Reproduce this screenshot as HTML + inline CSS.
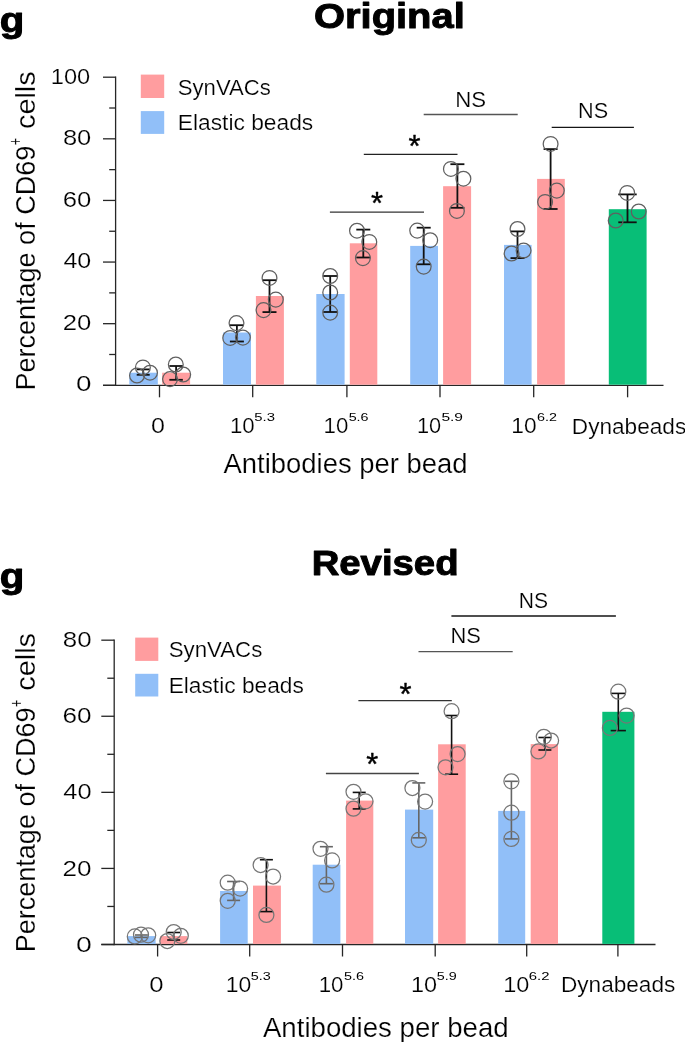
<!DOCTYPE html>
<html><head><meta charset="utf-8"><style>
html,body{margin:0;padding:0;background:#fff;}
svg{display:block;will-change:transform;}
text{font-family:"Liberation Sans",sans-serif;}
</style></head><body>
<svg width="685" height="1042" viewBox="0 0 685 1042">
<rect width="685" height="1042" fill="#fff"/>
<line x1="115.60" y1="76.55" x2="115.60" y2="385.95" stroke="#262626" stroke-width="1.3"/>
<line x1="103.00" y1="385.30" x2="115.60" y2="385.30" stroke="#262626" stroke-width="1.3"/>
<line x1="109.20" y1="354.49" x2="115.60" y2="354.49" stroke="#262626" stroke-width="1.3"/>
<line x1="103.00" y1="323.68" x2="115.60" y2="323.68" stroke="#262626" stroke-width="1.3"/>
<line x1="109.20" y1="292.87" x2="115.60" y2="292.87" stroke="#262626" stroke-width="1.3"/>
<line x1="103.00" y1="262.06" x2="115.60" y2="262.06" stroke="#262626" stroke-width="1.3"/>
<line x1="109.20" y1="231.25" x2="115.60" y2="231.25" stroke="#262626" stroke-width="1.3"/>
<line x1="103.00" y1="200.44" x2="115.60" y2="200.44" stroke="#262626" stroke-width="1.3"/>
<line x1="109.20" y1="169.63" x2="115.60" y2="169.63" stroke="#262626" stroke-width="1.3"/>
<line x1="103.00" y1="138.82" x2="115.60" y2="138.82" stroke="#262626" stroke-width="1.3"/>
<line x1="109.20" y1="108.01" x2="115.60" y2="108.01" stroke="#262626" stroke-width="1.3"/>
<line x1="103.00" y1="77.20" x2="115.60" y2="77.20" stroke="#262626" stroke-width="1.3"/>
<line x1="103.00" y1="385.30" x2="663.50" y2="385.30" stroke="#262626" stroke-width="1.3"/>
<line x1="159.50" y1="385.30" x2="159.50" y2="397.30" stroke="#262626" stroke-width="1.3"/>
<line x1="252.70" y1="385.30" x2="252.70" y2="397.30" stroke="#262626" stroke-width="1.3"/>
<line x1="346.90" y1="385.30" x2="346.90" y2="397.30" stroke="#262626" stroke-width="1.3"/>
<line x1="440.00" y1="385.30" x2="440.00" y2="397.30" stroke="#262626" stroke-width="1.3"/>
<line x1="533.70" y1="385.30" x2="533.70" y2="397.30" stroke="#262626" stroke-width="1.3"/>
<line x1="627.60" y1="385.30" x2="627.60" y2="397.30" stroke="#262626" stroke-width="1.3"/>
<rect x="129.30" y="372.70" width="28.50" height="12.00" fill="#91BFF8"/>
<rect x="162.20" y="372.70" width="27.90" height="12.00" fill="#FF9D9F"/>
<rect x="223.00" y="332.50" width="28.00" height="52.20" fill="#91BFF8"/>
<rect x="255.90" y="296.00" width="28.00" height="88.70" fill="#FF9D9F"/>
<rect x="316.30" y="294.00" width="28.30" height="90.70" fill="#91BFF8"/>
<rect x="349.80" y="243.30" width="27.50" height="141.40" fill="#FF9D9F"/>
<rect x="410.20" y="245.90" width="27.80" height="138.80" fill="#91BFF8"/>
<rect x="443.10" y="186.20" width="28.00" height="198.50" fill="#FF9D9F"/>
<rect x="504.00" y="244.90" width="27.60" height="139.80" fill="#91BFF8"/>
<rect x="537.10" y="178.90" width="27.70" height="205.80" fill="#FF9D9F"/>
<rect x="608.80" y="209.20" width="37.80" height="175.50" fill="#08BE77"/>
<line x1="143.20" y1="369.40" x2="143.20" y2="374.80" stroke="#111111" stroke-width="1.8"/>
<line x1="136.70" y1="369.40" x2="149.70" y2="369.40" stroke="#111111" stroke-width="1.8"/>
<line x1="136.70" y1="374.80" x2="149.70" y2="374.80" stroke="#111111" stroke-width="1.8"/>
<line x1="176.10" y1="366.00" x2="176.10" y2="379.80" stroke="#111111" stroke-width="1.8"/>
<line x1="169.35" y1="366.00" x2="182.85" y2="366.00" stroke="#111111" stroke-width="1.8"/>
<line x1="169.35" y1="379.80" x2="182.85" y2="379.80" stroke="#111111" stroke-width="1.8"/>
<line x1="236.90" y1="325.20" x2="236.90" y2="341.50" stroke="#111111" stroke-width="1.8"/>
<line x1="229.90" y1="325.20" x2="243.90" y2="325.20" stroke="#111111" stroke-width="1.8"/>
<line x1="229.90" y1="341.50" x2="243.90" y2="341.50" stroke="#111111" stroke-width="1.8"/>
<line x1="269.50" y1="280.20" x2="269.50" y2="312.10" stroke="#111111" stroke-width="1.8"/>
<line x1="262.50" y1="280.20" x2="276.50" y2="280.20" stroke="#111111" stroke-width="1.8"/>
<line x1="262.50" y1="312.10" x2="276.50" y2="312.10" stroke="#111111" stroke-width="1.8"/>
<line x1="330.20" y1="276.00" x2="330.20" y2="312.00" stroke="#111111" stroke-width="1.8"/>
<line x1="323.20" y1="276.00" x2="337.20" y2="276.00" stroke="#111111" stroke-width="1.8"/>
<line x1="323.20" y1="312.00" x2="337.20" y2="312.00" stroke="#111111" stroke-width="1.8"/>
<line x1="363.30" y1="229.60" x2="363.30" y2="257.50" stroke="#111111" stroke-width="1.8"/>
<line x1="356.30" y1="229.60" x2="370.30" y2="229.60" stroke="#111111" stroke-width="1.8"/>
<line x1="356.30" y1="257.50" x2="370.30" y2="257.50" stroke="#111111" stroke-width="1.8"/>
<line x1="423.70" y1="227.70" x2="423.70" y2="264.30" stroke="#111111" stroke-width="1.8"/>
<line x1="416.70" y1="227.70" x2="430.70" y2="227.70" stroke="#111111" stroke-width="1.8"/>
<line x1="416.70" y1="264.30" x2="430.70" y2="264.30" stroke="#111111" stroke-width="1.8"/>
<line x1="457.40" y1="164.20" x2="457.40" y2="207.80" stroke="#111111" stroke-width="1.8"/>
<line x1="450.40" y1="164.20" x2="464.40" y2="164.20" stroke="#111111" stroke-width="1.8"/>
<line x1="450.40" y1="207.80" x2="464.40" y2="207.80" stroke="#111111" stroke-width="1.8"/>
<line x1="517.50" y1="231.40" x2="517.50" y2="258.10" stroke="#111111" stroke-width="1.8"/>
<line x1="510.50" y1="231.40" x2="524.50" y2="231.40" stroke="#111111" stroke-width="1.8"/>
<line x1="510.50" y1="258.10" x2="524.50" y2="258.10" stroke="#111111" stroke-width="1.8"/>
<line x1="550.60" y1="149.10" x2="550.60" y2="209.00" stroke="#111111" stroke-width="1.8"/>
<line x1="543.60" y1="149.10" x2="557.60" y2="149.10" stroke="#111111" stroke-width="1.8"/>
<line x1="543.60" y1="209.00" x2="557.60" y2="209.00" stroke="#111111" stroke-width="1.8"/>
<line x1="627.50" y1="194.40" x2="627.50" y2="222.30" stroke="#111111" stroke-width="1.8"/>
<line x1="618.30" y1="194.40" x2="636.70" y2="194.40" stroke="#111111" stroke-width="1.8"/>
<line x1="618.30" y1="222.30" x2="636.70" y2="222.30" stroke="#111111" stroke-width="1.8"/>
<circle cx="142.90" cy="367.40" r="7.4" fill="none" stroke="#606060" stroke-width="1.25"/>
<circle cx="137.00" cy="375.50" r="7.4" fill="none" stroke="#606060" stroke-width="1.25"/>
<circle cx="150.00" cy="372.70" r="7.4" fill="none" stroke="#606060" stroke-width="1.25"/>
<circle cx="175.80" cy="364.50" r="7.4" fill="none" stroke="#606060" stroke-width="1.25"/>
<circle cx="183.20" cy="374.50" r="7.4" fill="none" stroke="#606060" stroke-width="1.25"/>
<circle cx="170.00" cy="379.10" r="7.4" fill="none" stroke="#606060" stroke-width="1.25"/>
<circle cx="236.50" cy="323.10" r="7.4" fill="none" stroke="#606060" stroke-width="1.25"/>
<circle cx="230.20" cy="337.90" r="7.4" fill="none" stroke="#606060" stroke-width="1.25"/>
<circle cx="242.90" cy="337.60" r="7.4" fill="none" stroke="#606060" stroke-width="1.25"/>
<circle cx="269.50" cy="277.90" r="7.4" fill="none" stroke="#606060" stroke-width="1.25"/>
<circle cx="275.80" cy="299.60" r="7.4" fill="none" stroke="#606060" stroke-width="1.25"/>
<circle cx="263.50" cy="310.10" r="7.4" fill="none" stroke="#606060" stroke-width="1.25"/>
<circle cx="330.20" cy="276.00" r="7.4" fill="none" stroke="#606060" stroke-width="1.25"/>
<circle cx="330.20" cy="292.50" r="7.4" fill="none" stroke="#606060" stroke-width="1.25"/>
<circle cx="330.20" cy="312.60" r="7.4" fill="none" stroke="#606060" stroke-width="1.25"/>
<circle cx="357.00" cy="230.70" r="7.4" fill="none" stroke="#606060" stroke-width="1.25"/>
<circle cx="369.30" cy="241.90" r="7.4" fill="none" stroke="#606060" stroke-width="1.25"/>
<circle cx="362.90" cy="258.10" r="7.4" fill="none" stroke="#606060" stroke-width="1.25"/>
<circle cx="417.20" cy="230.60" r="7.4" fill="none" stroke="#606060" stroke-width="1.25"/>
<circle cx="430.20" cy="240.20" r="7.4" fill="none" stroke="#606060" stroke-width="1.25"/>
<circle cx="423.70" cy="266.60" r="7.4" fill="none" stroke="#606060" stroke-width="1.25"/>
<circle cx="450.90" cy="168.90" r="7.4" fill="none" stroke="#606060" stroke-width="1.25"/>
<circle cx="463.40" cy="178.70" r="7.4" fill="none" stroke="#606060" stroke-width="1.25"/>
<circle cx="456.90" cy="210.90" r="7.4" fill="none" stroke="#606060" stroke-width="1.25"/>
<circle cx="517.50" cy="229.00" r="7.4" fill="none" stroke="#606060" stroke-width="1.25"/>
<circle cx="511.60" cy="253.50" r="7.4" fill="none" stroke="#606060" stroke-width="1.25"/>
<circle cx="523.60" cy="250.50" r="7.4" fill="none" stroke="#606060" stroke-width="1.25"/>
<circle cx="550.60" cy="143.90" r="7.4" fill="none" stroke="#606060" stroke-width="1.25"/>
<circle cx="556.80" cy="190.60" r="7.4" fill="none" stroke="#606060" stroke-width="1.25"/>
<circle cx="545.10" cy="201.90" r="7.4" fill="none" stroke="#606060" stroke-width="1.25"/>
<circle cx="627.20" cy="192.90" r="7.4" fill="none" stroke="#606060" stroke-width="1.25"/>
<circle cx="638.70" cy="211.50" r="7.4" fill="none" stroke="#606060" stroke-width="1.25"/>
<circle cx="615.70" cy="220.50" r="7.4" fill="none" stroke="#606060" stroke-width="1.25"/>
<text transform="translate(50.80,84.00) scale(1.1147,1)" style="font-size:21.2px" fill="#000" stroke="#fff" stroke-width="0.2">100</text>
<text transform="translate(62.90,145.20) scale(1.2044,1)" style="font-size:21.2px" fill="#000" stroke="#fff" stroke-width="0.2">80</text>
<text transform="translate(62.69,206.80) scale(1.2139,1)" style="font-size:21.2px" fill="#000" stroke="#fff" stroke-width="0.2">60</text>
<text transform="translate(63.42,268.40) scale(1.1815,1)" style="font-size:21.2px" fill="#000" stroke="#fff" stroke-width="0.2">40</text>
<text transform="translate(62.71,329.50) scale(1.2127,1)" style="font-size:21.2px" fill="#000" stroke="#fff" stroke-width="0.2">20</text>
<text transform="translate(75.91,391.10) scale(1.3125,1)" style="font-size:21.2px" fill="#000" stroke="#fff" stroke-width="0.2">0</text>
<rect x="140.80" y="74.60" width="23.40" height="23.40" fill="#FF9D9F"/>
<rect x="140.80" y="111.10" width="23.40" height="22.80" fill="#91BFF8"/>
<text transform="translate(177.78,94.50) scale(1.0065,1)" style="font-size:22px" fill="#000" stroke="#fff" stroke-width="0.2">SynVACs</text>
<text transform="translate(177.73,130.00) scale(1.0362,1)" style="font-size:22px" fill="#000" stroke="#fff" stroke-width="0.2">Elastic beads</text>
<text transform="translate(151.12,433.30) scale(1.1842,1)" style="font-size:21.2px" fill="#000" stroke="#fff" stroke-width="0.2">0</text>
<text transform="translate(229.91,433.30) scale(1.0503,1)" style="font-size:21.2px" fill="#000" stroke="#fff" stroke-width="0.2">10</text>
<text transform="translate(254.31,420.90) scale(1.2917,1)" style="font-size:11.5px" fill="#000">5.3</text>
<text transform="translate(323.51,433.30) scale(1.0503,1)" style="font-size:21.2px" fill="#000" stroke="#fff" stroke-width="0.2">10</text>
<text transform="translate(348.63,420.90) scale(1.2451,1)" style="font-size:11.5px" fill="#000">5.6</text>
<text transform="translate(416.95,433.30) scale(1.0267,1)" style="font-size:21.2px" fill="#000" stroke="#fff" stroke-width="0.2">10</text>
<text transform="translate(441.38,420.90) scale(1.3547,1)" style="font-size:11.5px" fill="#000">5.9</text>
<text transform="translate(511.37,433.30) scale(1.0740,1)" style="font-size:21.2px" fill="#000" stroke="#fff" stroke-width="0.2">10</text>
<text transform="translate(536.97,420.90) scale(1.2480,1)" style="font-size:11.5px" fill="#000">6.2</text>
<text transform="translate(571.84,433.50) scale(1.0673,1)" style="font-size:21.2px" fill="#000" stroke="#fff" stroke-width="0.2">Dynabeads</text>
<text transform="translate(223.45,473.00) scale(0.9984,1)" style="font-size:27.5px" fill="#000" stroke="#fff" stroke-width="0.2">Antibodies per bead</text>
<g transform="translate(34.5,388.3) rotate(-90)">
<text transform="translate(-2.22,0.00) scale(0.9824,1)" style="font-size:27.5px" fill="#000" stroke="#fff" stroke-width="0.2">Percentage of CD69</text>
<text transform="translate(243.07,-12.40) scale(0.7127,1)" style="font-size:17.9px" fill="#000" stroke="#fff" stroke-width="0.2">+</text>
<text transform="translate(259.29,0.00) scale(1.0495,1)" style="font-size:27.5px" fill="#000" stroke="#fff" stroke-width="0.2">cells</text>
</g>
<line x1="329.90" y1="212.10" x2="424.00" y2="212.10" stroke="#333" stroke-width="1.3"/>
<line x1="363.80" y1="154.40" x2="457.50" y2="154.40" stroke="#222" stroke-width="1.3"/>
<line x1="423.70" y1="114.50" x2="517.70" y2="114.50" stroke="#555" stroke-width="1.3"/>
<line x1="551.70" y1="127.30" x2="633.90" y2="127.30" stroke="#151515" stroke-width="1.3"/>
<text transform="translate(455.18,106.80) scale(1.0093,1)" style="font-size:22px" fill="#000" stroke="#fff" stroke-width="0.2">NS</text>
<text transform="translate(578.02,118.10) scale(0.9841,1)" style="font-size:22px" fill="#000" stroke="#fff" stroke-width="0.2">NS</text>
<text x="371.01" y="214.29" style="font-size:30.81px" fill="#000" stroke="#000" stroke-width="0.4" stroke-linejoin="round">*</text>
<text x="408.41" y="156.99" style="font-size:30.81px" fill="#000" stroke="#000" stroke-width="0.4" stroke-linejoin="round">*</text>
<text transform="translate(-0.25,31.70) scale(1.1312,1)" style="font-weight:bold;font-size:35.5px" fill="#000" stroke="#000" stroke-width="1.0" stroke-linejoin="round">g</text>
<text transform="translate(314.06,28.40) scale(1.1234,1)" style="font-weight:bold;font-size:35.5px" fill="#000" stroke="#000" stroke-width="1.0" stroke-linejoin="round">Original</text>
<line x1="114.20" y1="639.53" x2="114.20" y2="945.15" stroke="#262626" stroke-width="1.3"/>
<line x1="101.30" y1="944.50" x2="114.20" y2="944.50" stroke="#262626" stroke-width="1.3"/>
<line x1="107.30" y1="906.46" x2="114.20" y2="906.46" stroke="#262626" stroke-width="1.3"/>
<line x1="101.30" y1="868.42" x2="114.20" y2="868.42" stroke="#262626" stroke-width="1.3"/>
<line x1="107.30" y1="830.38" x2="114.20" y2="830.38" stroke="#262626" stroke-width="1.3"/>
<line x1="101.30" y1="792.34" x2="114.20" y2="792.34" stroke="#262626" stroke-width="1.3"/>
<line x1="107.30" y1="754.30" x2="114.20" y2="754.30" stroke="#262626" stroke-width="1.3"/>
<line x1="101.30" y1="716.26" x2="114.20" y2="716.26" stroke="#262626" stroke-width="1.3"/>
<line x1="107.30" y1="678.22" x2="114.20" y2="678.22" stroke="#262626" stroke-width="1.3"/>
<line x1="101.30" y1="640.18" x2="114.20" y2="640.18" stroke="#262626" stroke-width="1.3"/>
<line x1="101.30" y1="944.50" x2="655.50" y2="944.50" stroke="#262626" stroke-width="1.3"/>
<line x1="157.60" y1="944.50" x2="157.60" y2="956.50" stroke="#262626" stroke-width="1.3"/>
<line x1="249.70" y1="944.50" x2="249.70" y2="956.50" stroke="#262626" stroke-width="1.3"/>
<line x1="342.50" y1="944.50" x2="342.50" y2="956.50" stroke="#262626" stroke-width="1.3"/>
<line x1="435.20" y1="944.50" x2="435.20" y2="956.50" stroke="#262626" stroke-width="1.3"/>
<line x1="526.70" y1="944.50" x2="526.70" y2="956.50" stroke="#262626" stroke-width="1.3"/>
<line x1="617.90" y1="944.50" x2="617.90" y2="956.50" stroke="#262626" stroke-width="1.3"/>
<rect x="127.40" y="936.10" width="28.20" height="7.80" fill="#91BFF8"/>
<rect x="160.00" y="936.10" width="27.30" height="7.80" fill="#FF9D9F"/>
<rect x="220.10" y="891.00" width="27.60" height="52.90" fill="#91BFF8"/>
<rect x="253.00" y="885.60" width="27.90" height="58.30" fill="#FF9D9F"/>
<rect x="312.70" y="864.70" width="27.70" height="79.20" fill="#91BFF8"/>
<rect x="346.10" y="800.60" width="27.20" height="143.30" fill="#FF9D9F"/>
<rect x="405.00" y="809.60" width="28.20" height="134.30" fill="#91BFF8"/>
<rect x="438.10" y="744.30" width="27.60" height="199.60" fill="#FF9D9F"/>
<rect x="498.20" y="810.90" width="27.00" height="133.00" fill="#91BFF8"/>
<rect x="530.70" y="744.10" width="27.30" height="199.80" fill="#FF9D9F"/>
<rect x="602.30" y="711.80" width="32.10" height="232.10" fill="#08BE77"/>
<line x1="141.40" y1="935.00" x2="141.40" y2="937.40" stroke="#666" stroke-width="1.6"/>
<line x1="134.90" y1="935.00" x2="147.90" y2="935.00" stroke="#666" stroke-width="1.6"/>
<line x1="134.90" y1="937.40" x2="147.90" y2="937.40" stroke="#666" stroke-width="1.6"/>
<line x1="173.70" y1="932.50" x2="173.70" y2="940.00" stroke="#111111" stroke-width="1.6"/>
<line x1="167.20" y1="932.50" x2="180.20" y2="932.50" stroke="#111111" stroke-width="1.6"/>
<line x1="167.20" y1="940.00" x2="180.20" y2="940.00" stroke="#111111" stroke-width="1.6"/>
<line x1="233.60" y1="881.50" x2="233.60" y2="900.40" stroke="#666" stroke-width="1.6"/>
<line x1="227.10" y1="881.50" x2="240.10" y2="881.50" stroke="#666" stroke-width="1.6"/>
<line x1="227.10" y1="900.40" x2="240.10" y2="900.40" stroke="#666" stroke-width="1.6"/>
<line x1="266.40" y1="859.70" x2="266.40" y2="911.60" stroke="#111111" stroke-width="1.6"/>
<line x1="259.90" y1="859.70" x2="272.90" y2="859.70" stroke="#111111" stroke-width="1.6"/>
<line x1="259.90" y1="911.60" x2="272.90" y2="911.60" stroke="#111111" stroke-width="1.6"/>
<line x1="326.40" y1="846.70" x2="326.40" y2="883.70" stroke="#666" stroke-width="1.6"/>
<line x1="319.90" y1="846.70" x2="332.90" y2="846.70" stroke="#666" stroke-width="1.6"/>
<line x1="319.90" y1="883.70" x2="332.90" y2="883.70" stroke="#666" stroke-width="1.6"/>
<line x1="359.20" y1="792.40" x2="359.20" y2="808.90" stroke="#111111" stroke-width="1.6"/>
<line x1="352.70" y1="792.40" x2="365.70" y2="792.40" stroke="#111111" stroke-width="1.6"/>
<line x1="352.70" y1="808.90" x2="365.70" y2="808.90" stroke="#111111" stroke-width="1.6"/>
<line x1="418.80" y1="782.90" x2="418.80" y2="837.80" stroke="#666" stroke-width="1.6"/>
<line x1="412.30" y1="782.90" x2="425.30" y2="782.90" stroke="#666" stroke-width="1.6"/>
<line x1="412.30" y1="837.80" x2="425.30" y2="837.80" stroke="#666" stroke-width="1.6"/>
<line x1="451.60" y1="715.50" x2="451.60" y2="774.20" stroke="#111111" stroke-width="1.6"/>
<line x1="445.10" y1="715.50" x2="458.10" y2="715.50" stroke="#111111" stroke-width="1.6"/>
<line x1="445.10" y1="774.20" x2="458.10" y2="774.20" stroke="#111111" stroke-width="1.6"/>
<line x1="511.40" y1="781.30" x2="511.40" y2="838.90" stroke="#666" stroke-width="1.6"/>
<line x1="504.90" y1="781.30" x2="517.90" y2="781.30" stroke="#666" stroke-width="1.6"/>
<line x1="504.90" y1="838.90" x2="517.90" y2="838.90" stroke="#666" stroke-width="1.6"/>
<line x1="544.90" y1="737.50" x2="544.90" y2="750.00" stroke="#111111" stroke-width="1.6"/>
<line x1="538.40" y1="737.50" x2="551.40" y2="737.50" stroke="#111111" stroke-width="1.6"/>
<line x1="538.40" y1="750.00" x2="551.40" y2="750.00" stroke="#111111" stroke-width="1.6"/>
<line x1="618.30" y1="693.40" x2="618.30" y2="730.60" stroke="#111111" stroke-width="1.6"/>
<line x1="610.70" y1="693.40" x2="625.90" y2="693.40" stroke="#111111" stroke-width="1.6"/>
<line x1="610.70" y1="730.60" x2="625.90" y2="730.60" stroke="#111111" stroke-width="1.6"/>
<circle cx="134.80" cy="936.40" r="7.5" fill="none" stroke="#767676" stroke-width="1.25"/>
<circle cx="141.00" cy="934.70" r="7.5" fill="none" stroke="#767676" stroke-width="1.25"/>
<circle cx="148.20" cy="935.30" r="7.5" fill="none" stroke="#767676" stroke-width="1.25"/>
<circle cx="173.70" cy="932.00" r="7.5" fill="none" stroke="#767676" stroke-width="1.25"/>
<circle cx="180.80" cy="935.80" r="7.5" fill="none" stroke="#767676" stroke-width="1.25"/>
<circle cx="167.30" cy="941.00" r="7.5" fill="none" stroke="#767676" stroke-width="1.25"/>
<circle cx="227.70" cy="882.70" r="7.5" fill="none" stroke="#767676" stroke-width="1.25"/>
<circle cx="240.10" cy="888.60" r="7.5" fill="none" stroke="#767676" stroke-width="1.25"/>
<circle cx="227.70" cy="900.80" r="7.5" fill="none" stroke="#767676" stroke-width="1.25"/>
<circle cx="260.60" cy="865.00" r="7.5" fill="none" stroke="#767676" stroke-width="1.25"/>
<circle cx="273.10" cy="876.50" r="7.5" fill="none" stroke="#767676" stroke-width="1.25"/>
<circle cx="266.40" cy="914.90" r="7.5" fill="none" stroke="#767676" stroke-width="1.25"/>
<circle cx="320.50" cy="848.80" r="7.5" fill="none" stroke="#767676" stroke-width="1.25"/>
<circle cx="332.10" cy="860.40" r="7.5" fill="none" stroke="#767676" stroke-width="1.25"/>
<circle cx="326.40" cy="884.70" r="7.5" fill="none" stroke="#767676" stroke-width="1.25"/>
<circle cx="353.50" cy="791.80" r="7.5" fill="none" stroke="#767676" stroke-width="1.25"/>
<circle cx="365.50" cy="801.30" r="7.5" fill="none" stroke="#767676" stroke-width="1.25"/>
<circle cx="353.50" cy="808.70" r="7.5" fill="none" stroke="#767676" stroke-width="1.25"/>
<circle cx="412.40" cy="788.00" r="7.5" fill="none" stroke="#767676" stroke-width="1.25"/>
<circle cx="425.10" cy="801.60" r="7.5" fill="none" stroke="#767676" stroke-width="1.25"/>
<circle cx="418.80" cy="839.90" r="7.5" fill="none" stroke="#767676" stroke-width="1.25"/>
<circle cx="451.60" cy="711.20" r="7.5" fill="none" stroke="#767676" stroke-width="1.25"/>
<circle cx="457.60" cy="754.10" r="7.5" fill="none" stroke="#767676" stroke-width="1.25"/>
<circle cx="445.50" cy="767.30" r="7.5" fill="none" stroke="#767676" stroke-width="1.25"/>
<circle cx="511.40" cy="781.30" r="7.5" fill="none" stroke="#767676" stroke-width="1.25"/>
<circle cx="511.40" cy="812.70" r="7.5" fill="none" stroke="#767676" stroke-width="1.25"/>
<circle cx="511.40" cy="838.90" r="7.5" fill="none" stroke="#767676" stroke-width="1.25"/>
<circle cx="543.80" cy="736.80" r="7.5" fill="none" stroke="#767676" stroke-width="1.25"/>
<circle cx="551.10" cy="740.50" r="7.5" fill="none" stroke="#767676" stroke-width="1.25"/>
<circle cx="538.40" cy="751.40" r="7.5" fill="none" stroke="#767676" stroke-width="1.25"/>
<circle cx="618.30" cy="691.70" r="7.5" fill="none" stroke="#767676" stroke-width="1.25"/>
<circle cx="626.60" cy="715.60" r="7.5" fill="none" stroke="#767676" stroke-width="1.25"/>
<circle cx="609.90" cy="727.90" r="7.5" fill="none" stroke="#767676" stroke-width="1.25"/>
<text transform="translate(62.79,647.20) scale(1.2228,1)" style="font-size:21.2px" fill="#000" stroke="#fff" stroke-width="0.2">80</text>
<text transform="translate(62.57,723.30) scale(1.2323,1)" style="font-size:21.2px" fill="#000" stroke="#fff" stroke-width="0.2">60</text>
<text transform="translate(63.32,799.40) scale(1.1995,1)" style="font-size:21.2px" fill="#000" stroke="#fff" stroke-width="0.2">40</text>
<text transform="translate(62.60,875.50) scale(1.2311,1)" style="font-size:21.2px" fill="#000" stroke="#fff" stroke-width="0.2">20</text>
<text transform="translate(75.89,951.60) scale(1.3421,1)" style="font-size:21.2px" fill="#000" stroke="#fff" stroke-width="0.2">0</text>
<rect x="135.20" y="637.60" width="23.10" height="23.30" fill="#FF9D9F"/>
<rect x="135.20" y="673.80" width="23.10" height="22.70" fill="#91BFF8"/>
<text transform="translate(168.67,656.50) scale(1.0132,1)" style="font-size:22px" fill="#000" stroke="#fff" stroke-width="0.2">SynVACs</text>
<text transform="translate(168.63,692.70) scale(1.0338,1)" style="font-size:22px" fill="#000" stroke="#fff" stroke-width="0.2">Elastic beads</text>
<text transform="translate(149.20,991.80) scale(1.2138,1)" style="font-size:21.2px" fill="#000" stroke="#fff" stroke-width="0.2">0</text>
<text transform="translate(225.75,991.80) scale(1.0834,1)" style="font-size:21.2px" fill="#000" stroke="#fff" stroke-width="0.2">10</text>
<text transform="translate(250.82,979.50) scale(1.2517,1)" style="font-size:11.5px" fill="#000">5.3</text>
<text transform="translate(318.71,991.80) scale(1.0503,1)" style="font-size:21.2px" fill="#000" stroke="#fff" stroke-width="0.2">10</text>
<text transform="translate(343.92,979.50) scale(1.2517,1)" style="font-size:11.5px" fill="#000">5.6</text>
<text transform="translate(411.02,991.80) scale(1.1071,1)" style="font-size:21.2px" fill="#000" stroke="#fff" stroke-width="0.2">10</text>
<text transform="translate(436.83,979.50) scale(1.2480,1)" style="font-size:11.5px" fill="#000">5.9</text>
<text transform="translate(503.32,991.80) scale(1.1071,1)" style="font-size:21.2px" fill="#000" stroke="#fff" stroke-width="0.2">10</text>
<text transform="translate(528.84,979.50) scale(1.2952,1)" style="font-size:11.5px" fill="#000">6.2</text>
<text transform="translate(560.94,992.00) scale(1.0673,1)" style="font-size:21.2px" fill="#000" stroke="#fff" stroke-width="0.2">Dynabeads</text>
<text transform="translate(262.94,1036.70) scale(1.0050,1)" style="font-size:27.5px" fill="#000" stroke="#fff" stroke-width="0.2">Antibodies per bead</text>
<g transform="translate(35.0,950.0) rotate(-90)">
<text transform="translate(-2.22,0.00) scale(0.9824,1)" style="font-size:27.5px" fill="#000" stroke="#fff" stroke-width="0.2">Percentage of CD69</text>
<text transform="translate(243.07,-12.40) scale(0.7127,1)" style="font-size:17.9px" fill="#000" stroke="#fff" stroke-width="0.2">+</text>
<text transform="translate(259.29,0.00) scale(1.0495,1)" style="font-size:27.5px" fill="#000" stroke="#fff" stroke-width="0.2">cells</text>
</g>
<line x1="325.90" y1="773.50" x2="418.90" y2="773.50" stroke="#444" stroke-width="1.3"/>
<line x1="358.40" y1="700.60" x2="451.80" y2="700.60" stroke="#333" stroke-width="1.3"/>
<line x1="418.50" y1="651.60" x2="512.70" y2="651.60" stroke="#555" stroke-width="1.3"/>
<line x1="451.40" y1="616.00" x2="615.90" y2="616.00" stroke="#151515" stroke-width="1.3"/>
<text transform="translate(450.51,642.80) scale(0.9949,1)" style="font-size:22px" fill="#000" stroke="#fff" stroke-width="0.2">NS</text>
<text transform="translate(518.87,608.10) scale(0.9588,1)" style="font-size:22px" fill="#000" stroke="#fff" stroke-width="0.2">NS</text>
<text x="366.21" y="774.59" style="font-size:30.81px" fill="#000" stroke="#000" stroke-width="0.4" stroke-linejoin="round">*</text>
<text x="399.41" y="705.09" style="font-size:30.81px" fill="#000" stroke="#000" stroke-width="0.4" stroke-linejoin="round">*</text>
<text transform="translate(-0.25,588.30) scale(1.1312,1)" style="font-weight:bold;font-size:35.5px" fill="#000" stroke="#000" stroke-width="1.0" stroke-linejoin="round">g</text>
<text transform="translate(311.63,575.20) scale(1.0794,1)" style="font-weight:bold;font-size:35.5px" fill="#000" stroke="#000" stroke-width="1.0" stroke-linejoin="round">Revised</text>
</svg>
</body></html>
